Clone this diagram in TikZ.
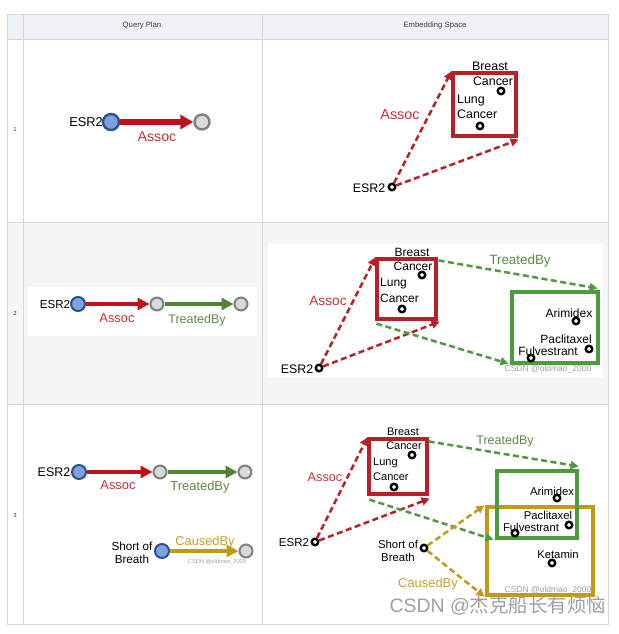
\documentclass[tikz,border=0pt]{standalone}
\usepackage{fontspec}
\setmainfont{Liberation Sans}
\newfontfamily\cjkfont{Noto Sans CJK SC}
\usetikzlibrary{arrows.meta}
\newcommand\fsz[1]{\fontsize{#1}{#1}\selectfont}
\definecolor{gridc}{HTML}{D6D6D6}
\definecolor{headbg}{HTML}{EEF1F5}
\definecolor{rowbg}{HTML}{F5F5F5}
\definecolor{qred}{HTML}{C0101A}
\definecolor{ered}{HTML}{B8202A}
\definecolor{lred}{HTML}{C0343C}
\definecolor{qgreen}{HTML}{548235}
\definecolor{egreen}{HTML}{4E9A3E}
\definecolor{lgreen}{HTML}{5B8C46}
\definecolor{qgold}{HTML}{C49A12}
\definecolor{lgold}{HTML}{C8A02A}
\definecolor{blueA}{HTML}{7F9FDF}
\definecolor{blueB}{HTML}{2F4F8F}
\definecolor{grayA}{HTML}{D9D9D9}
\definecolor{grayB}{HTML}{808080}
\definecolor{wmark}{HTML}{A0A0A0}
\definecolor{headtxt}{HTML}{404040}
\tikzset{
  qstart/.style={circle, draw=blueB, fill=blueA, line width=2pt, minimum size=14pt, inner sep=0},
  qtail/.style={circle, draw=grayB, fill=grayA, line width=2pt, minimum size=13pt, inner sep=0},
  qarr/.style={line width=4.4pt, -{Triangle[length=12pt,width=12pt]}},
  edot/.style={circle, draw=black, fill=white, line width=2.4pt, minimum size=6.5pt, inner sep=0},
  darr/.style={line width=2.5pt, dash pattern=on 6pt off 3.5pt, -{Triangle[length=8pt,width=8pt]}},
  ebox/.style={draw, line width=3.2pt, inner sep=0, fill=none},
  txt/.style={inner sep=0, text=black},
  lab/.style={inner sep=0},
}
\begin{document}
\begin{tikzpicture}[x=1pt,y=-1pt]
\useasboundingbox (0,0) rectangle (618,634);
\fill[white] (0,0) rectangle (618,634);
% table
\fill[headbg] (7,14) rectangle (608,39);
\fill[rowbg] (7,222) rectangle (608,404);
\fill[white] (28,287) rectangle (257,336);
\fill[white] (268,243) rectangle (603,378);
\draw[gridc, line width=0.8pt] (7,14) rectangle (608,624);
\draw[gridc, line width=0.8pt] (7,39) -- (608,39) (7,222) -- (608,222) (7,404) -- (608,404)
  (23,14) -- (23,624) (262,14) -- (262,624);
\node[txt, text=headtxt, font=\fsz{7.7}] (h1) at (142,26) {Query Plan};
\node[txt, text=headtxt, font=\fsz{7.7}] (h2) at (435,26) {Embedding Space};
\node[txt, text=headtxt, font=\fsz{6}] (n1) at (15,129) {1};
\node[txt, text=headtxt, font=\fsz{6}] (n2) at (15,313) {2};
\node[txt, text=headtxt, font=\fsz{6}] (n3) at (15,515) {3};

% ---------- Row 1 left
\node[txt, font=\fsz{12.8}] (q1esr) at (86,122) {ESR2};
\node[qstart, minimum size=16pt, line width=2.4pt] (q1a) at (111,122) {};
\node[qtail, minimum size=15pt, line width=2.4pt] (q1b) at (202,122) {};
\draw[qarr, qred, line width=5.2pt, -{Triangle[length=13pt,width=14pt]}] (q1a) -- (q1b);
\node[lab, text=lred, font=\fsz{14.2}] (q1l) at (157,137) {Assoc};

% ---------- Row 1 right
\node[ebox, draw=ered, minimum width=63pt, minimum height=63pt] (e1r) at (484.5,104.5) {};
\node[txt, font=\fsz{12.4}] (e1t1) at (490,66) {Breast};
\node[txt, font=\fsz{12.4}] (e1t2) at (493,81) {Cancer};
\node[edot] (e1bc) at (501,91) {};
\node[txt, font=\fsz{12.4}, anchor=west] (e1t3) at (457,101) {Lung};
\node[txt, font=\fsz{12.4}, anchor=west] (e1t4) at (457,114) {Cancer};
\node[edot] (e1lc) at (480,126) {};
\node[txt, font=\fsz{12.4}] (e1esrt) at (369,188) {ESR2};
\node[edot] (e1esr) at (392,187) {};
\draw[darr, ered] (e1esr) -- (e1r.north west);
\draw[darr, ered] (e1esr) -- ([shift={(1,2)}]e1r.south east);
\node[lab, text=lred, font=\fsz{14.4}] (e1l) at (400,115) {Assoc};

% ---------- Row 2 left
\node[txt, font=\fsz{11.6}] (q2esr) at (55,305) {ESR2};
\node[qstart] (q2a) at (78,304) {};
\node[qtail] (q2b) at (157,304) {};
\node[qtail] (q2c) at (241,304) {};
\draw[qarr, qred] (q2a) -- (q2b);
\draw[qarr, qgreen] (q2b) -- (q2c);
\node[lab, text=lred, font=\fsz{12.9}] (q2l1) at (117,318) {Assoc};
\node[lab, text=lgreen, font=\fsz{12.5}] (q2l2) at (197,320) {TreatedBy};

% ---------- Row 2 right
\node[ebox, draw=ered, minimum width=59pt, minimum height=60pt] (e2r) at (406.5,289) {};
\node[ebox, draw=egreen, minimum width=86pt, minimum height=71pt] (e2g) at (555,327.5) {};
\node[txt, font=\fsz{12}] (e2t1) at (412,252) {Breast};
\node[txt, font=\fsz{12}] (e2t2) at (413,266) {Cancer};
\node[edot] (e2bc) at (422,275) {};
\node[txt, font=\fsz{12}, anchor=west] (e2t3) at (380,284) {Lung};
\node[txt, font=\fsz{12}, anchor=west] (e2t4) at (380,298) {Cancer};
\node[edot] (e2lc) at (402,309) {};
\node[txt, font=\fsz{12.4}] (e2esrt) at (297,369) {ESR2};
\node[edot] (e2esr) at (319,368) {};
\node[txt, font=\fsz{12}] (e2t5) at (569,313) {Arimidex};
\node[edot] (e2ar) at (576,321) {};
\node[txt, font=\fsz{12}] (e2t6) at (566,339) {Paclitaxel};
\node[edot] (e2pa) at (589,349) {};
\node[txt, font=\fsz{12}] (e2t7) at (548,351) {Fulvestrant};
\node[edot] (e2fu) at (531,358) {};
\draw[darr, ered] (e2esr) -- (e2r.north west);
\draw[darr, ered] (e2esr) -- ([shift={(2,1)}]e2r.south east);
\draw[darr, egreen] ([shift={(1,3)}]e2r.north east) -- ([shift={(-2,-2)}]e2g.north east);
\draw[darr, egreen] ([shift={(1,3)}]e2r.south west) -- ([shift={(-2,-1)}]e2g.south west);
\node[lab, text=lred, font=\fsz{13.7}] (e2l1) at (328,301) {Assoc};
\node[lab, text=lgreen, font=\fsz{13.4}] (e2l2) at (520,261) {TreatedBy};
\node[lab, text=wmark, font=\fsz{8.5}] (e2w) at (548,369) {CSDN @oldmao\_2000};

% ---------- Row 3 left
\node[txt, font=\fsz{12.5}] (q3esr) at (54,472) {ESR2};
\node[qstart] (q3a) at (79,472) {};
\node[qtail] (q3b) at (160,472) {};
\node[qtail] (q3c) at (245,472) {};
\draw[qarr, qred] (q3a) -- (q3b);
\draw[qarr, qgreen] (q3b) -- (q3c);
\node[lab, text=lred, font=\fsz{12.9}] (q3l1) at (118,485) {Assoc};
\node[lab, text=lgreen, font=\fsz{12.9}] (q3l2) at (200,487) {TreatedBy};
\node[txt, font=\fsz{11.7}] (q3s1) at (132,546) {Short of};
\node[txt, font=\fsz{11.7}] (q3s2) at (132,559) {Breath};
\node[qstart] (q3d) at (162,551) {};
\node[qtail] (q3e) at (246,551) {};
\draw[qarr, qgold] (q3d) -- (q3e);
\node[lab, text=lgold, font=\fsz{12.8}] (q3l3) at (205,542) {CausedBy};
\node[lab, text=wmark, font=\fsz{5.7}] (q3w) at (217,562) {CSDN @oldmao\_2000};

% ---------- Row 3 right
\node[ebox, draw=ered, minimum width=58pt, minimum height=55pt] (e3r) at (398,466.5) {};
\node[ebox, draw=qgold, minimum width=106pt, minimum height=88pt] (e3y) at (540,551) {};
\node[ebox, draw=egreen, minimum width=80pt, minimum height=67pt] (e3g) at (537,504.5) {};
\node[txt, font=\fsz{11}] (e3t1) at (403,432) {Breast};
\node[txt, font=\fsz{11}] (e3t2) at (404,446) {Cancer};
\node[edot] (e3bc) at (412,455) {};
\node[txt, font=\fsz{11}, anchor=west] (e3t3) at (373,463) {Lung};
\node[txt, font=\fsz{11}, anchor=west] (e3t4) at (373,477) {Cancer};
\node[edot] (e3lc) at (394,487) {};
\node[txt, font=\fsz{11.5}] (e3esrt) at (294,543) {ESR2};
\node[edot] (e3esr) at (315,542) {};
\node[txt, font=\fsz{11.4}] (e3s1) at (398,544) {Short of};
\node[txt, font=\fsz{11.4}] (e3s2) at (398,557) {Breath};
\node[edot] (e3sob) at (424,548) {};
\node[txt, font=\fsz{11.3}] (e3t5) at (552,491) {Arimidex};
\node[edot] (e3ar) at (557,498) {};
\node[txt, font=\fsz{11.3}] (e3t6) at (548,515) {Paclitaxel};
\node[edot] (e3pa) at (569,525) {};
\node[txt, font=\fsz{11.3}] (e3t7) at (531,527) {Fulvestrant};
\node[edot] (e3fu) at (515,533) {};
\node[txt, font=\fsz{11.3}] (e3t8) at (558,554) {Ketamin};
\node[edot] (e3ke) at (552,563) {};
\draw[darr, ered] (e3esr) -- (e3r.north west);
\draw[darr, ered] (e3esr) -- ([shift={(1,3)}]e3r.south east);
\draw[darr, egreen] ([shift={(0,4)}]e3r.north east) -- ([shift={(0,-3)}]e3g.north east);
\draw[darr, egreen] ([shift={(2,4)}]e3r.south west) -- ([shift={(-2,0)}]e3g.south west);
\draw[darr, qgold] (e3sob) -- ([shift={(-1,0)}]e3y.north west);
\draw[darr, qgold] (e3sob) -- ([shift={(-1,0)}]e3y.south west);
\node[lab, text=lred, font=\fsz{12.7}] (e3l1) at (325,477) {Assoc};
\node[lab, text=lgreen, font=\fsz{12.5}] (e3l2) at (505,441) {TreatedBy};
\node[lab, text=lgold, font=\fsz{12.9}] (e3l3) at (428,584) {CausedBy};
\node[lab, text=wmark, font=\fsz{8.5}] (e3w) at (548,590) {CSDN @oldmao\_2000};

% big watermark
\node[lab, text=wmark, font=\fsz{19.5}] (wm) at (498,606) {CSDN @{\cjkfont 杰克船长有烦恼}};
\end{tikzpicture}
\end{document}
